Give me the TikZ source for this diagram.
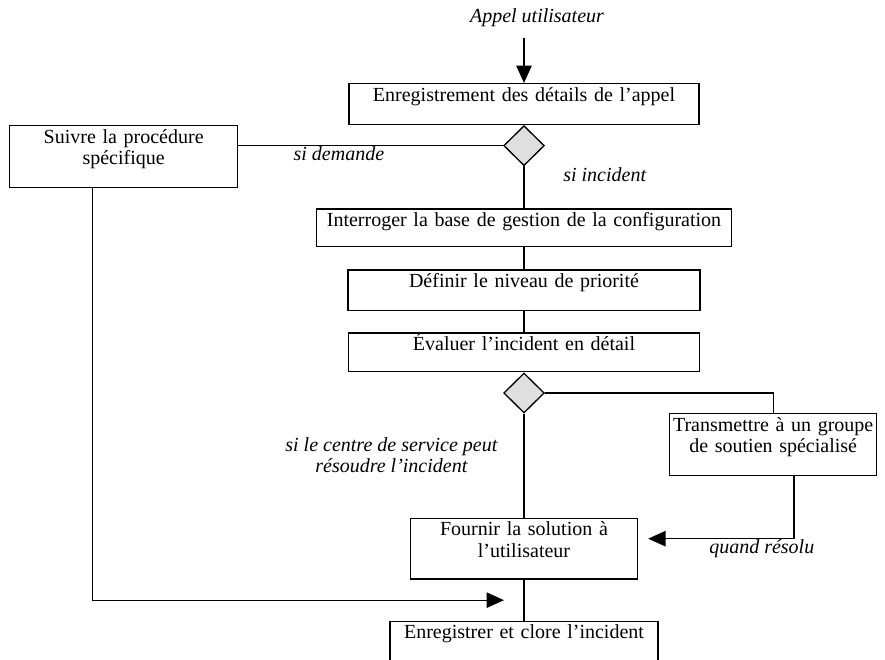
\documentclass[tikz,border=0pt]{standalone}
\usepackage{fontspec}
\setmainfont{Liberation Serif}
\usetikzlibrary{shapes.geometric, arrows.meta, positioning, calc}
\newcommand{\boxfont}{\fontsize{15}{16}\selectfont}
\tikzset{
  etape/.style  = {rectangle, draw, line width=1pt, align=center, font=\boxfont,
                   inner xsep=0pt, inner ysep=2.5pt, text height=10.5pt, text depth=15pt},
  etape2/.style = {etape, text depth=30.75pt},
  choix/.style  = {diamond, aspect=1, draw, line width=1pt, fill=gray!25,
                   inner sep=0pt, minimum width=30.5pt, minimum height=30pt},
  ligne/.style  = {line width=1pt},
  arr/.style    = {-{Triangle[length=13pt, width=11.5pt]}, line width=1pt},
  lbl/.style    = {font=\boxfont\itshape, inner sep=0pt, align=center},
}
\begin{document}
\begin{tikzpicture}[x=0.75pt, y=-0.75pt, node distance=16pt]
% frame of the page (pixel units, y pointing down)
\useasboundingbox (0,0) rectangle (885,660);
\clip (0,0) rectangle (885,660);

% ---- Main spine --------------------------------------------------------------
\node[lbl] (appel) at (537,18) {Appel utilisateur};
\coordinate (A0) at (524,38);

\node[etape, text width=262.5pt, anchor=north] (S1) at (524,83)
  {Enregistrement des détails de l’appel};
\node[choix, below=0pt of S1] (D1) {};
\node[etape, text width=311.25pt, text depth=12.75pt, below=31.5pt of D1] (S2)
  {Interroger la base de gestion de la configuration};
\node[etape, text width=264pt, below=16.5pt of S2] (S3)
  {Définir le niveau de priorité};
\node[etape, text width=263.25pt, text depth=13.5pt, below=15.75pt of S3] (S4)
  {Évaluer l’incident en détail};
\node[choix, below=0pt of S4] (D2) {};
\node[etape2, text width=170.25pt, text depth=30pt, below=78pt of D2] (S5)
  {Fournir la solution à\\l’utilisateur};
\node[etape2, text width=201pt, below=30.75pt of S5] (S6)
  {Enregistrer et clore l’incident};

% ---- Side boxes --------------------------------------------------------------
\node[etape2, text width=171pt, anchor=north west] (P) at (9,125)
  {Suivre la procédure\\spécifique};
\node[etape2, text width=155.25pt, anchor=north west] (T) at (669,413)
  {Transmettre à un groupe\\de soutien spécialisé};

% ---- Connectors --------------------------------------------------------------
\draw[arr] (A0) -- (S1.north);
\draw[ligne] (D1.west) -- node[lbl, below, pos=0.62] (Ldem) {si demande} (D1.west -| P.east);
\draw[ligne] (D1) -- node[lbl, right, pos=0.21, xshift=29pt] (Linc) {si incident} (S2);
\draw[ligne] (S2) -- (S3);
\draw[ligne] (S3) -- (S4);
\draw[ligne] (D2) -- node[lbl, left, pos=0.40, xshift=-19.5pt] (Lcs)
  {si le centre de service peut\\résoudre l’incident} (S5);
\draw[ligne] (D2.east) -| (T.north);
\draw[ligne] (S5) -- (S6);

% ---- Return arrows -----------------------------------------------------------
\coordinate (R) at ([shift={(10,-10)}]S5.east);
\draw[arr] ([xshift=15.5pt]T.south) |- node[lbl, below, pos=0.61] (Lres) {quand résolu} (R);

\coordinate (M) at ($(S5.south)!0.5!(S6.north)+(-20,0)$);
\draw[arr] ([xshift=-23.25pt]P.south) |- (M);

\end{tikzpicture}
\end{document}
